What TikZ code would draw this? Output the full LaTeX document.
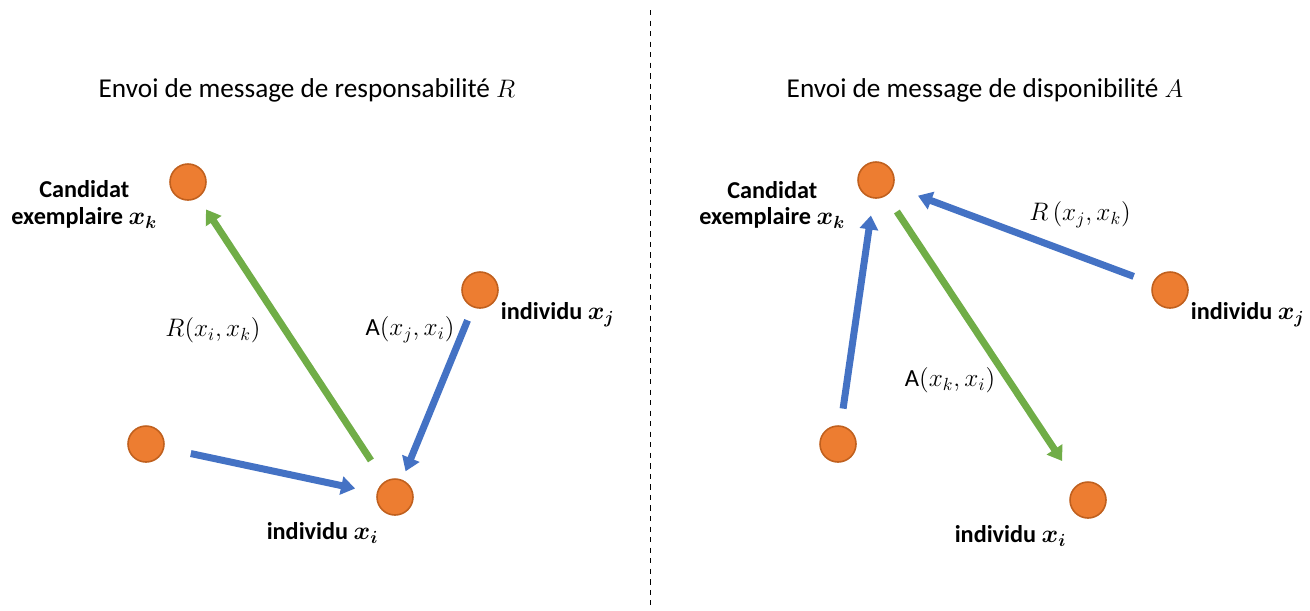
\documentclass[tikz,border=0pt]{standalone}
\usepackage{fontspec}
\setmainfont{Carlito}
\usetikzlibrary{arrows.meta, positioning}
\definecolor{dotorange}{HTML}{ED7D31}
\definecolor{dotedge}{HTML}{C0601E}
\definecolor{msgblue}{HTML}{4472C4}
\definecolor{msggreen}{HTML}{70AD47}

\begin{document}
\begin{tikzpicture}[x=0.02cm, y=-0.02cm,
    point/.style={circle, fill=dotorange, draw=dotedge, line width=0.9pt,
                  minimum size=0.72cm, inner sep=0pt},
    who/.style={font=\fontsize{13.8}{15}\selectfont\bfseries\boldmath,
                align=center, inner sep=1pt},
    msg/.style={font=\fontsize{14}{16}\selectfont, inner sep=1pt},
    heading/.style={font=\fontsize{15.5}{18}\selectfont, inner sep=0pt},
    bluelink/.style={-{Triangle[length=0.28cm, width=0.36cm]},
                     line width=0.14cm, msgblue},
    greenlink/.style={-{Triangle[length=0.28cm, width=0.36cm]},
                      line width=0.14cm, msggreen}
]
    \useasboundingbox (0,0) rectangle (1310,610);

    % separator
    \coordinate (sepTop) at (650,10);
    \coordinate (sepBot) at (650,605);
    \draw[dashed, thin] (sepTop) -- (sepBot);

    % left: responsabilite
    \node[heading] (titleR) at (307,90) {Envoi de message de responsabilité $R$};

    \node[point] (kL) at (188,182) {};
    \node[point] (jL) at (480,290) {};
    \node[point] (oL) at (146,444) {};
    \node[point] (iL) at (395,497) {};

    \node[who, left=0.2cm of kL, yshift=-0.45cm] (kLtxt) {Candidat\\exemplaire $x_k$};
    \node[who, right=0cm of jL, yshift=-0.5cm] (jLtxt) {individu $x_j$};
    \node[who, below=0.1cm of iL, xshift=-1.45cm] (iLtxt) {individu $x_i$};

    \draw[greenlink, shorten <=0.5cm, shorten >=0.28cm] (iL) -- (kL);
    \draw[bluelink, shorten <=0.54cm, shorten >=0.44cm] (oL) -- (iL);
    \draw[bluelink, shorten <=0.28cm, shorten >=0.18cm] (jL) -- (iL);

    \node[msg] (rik) at (213,330) {$R(x_i,x_k)$};
    \node[msg] (aji) at (410,330) {A$\left(x_j,x_i\right)$};

    % right: disponibilite
    \node[heading] (titleA) at (985,90) {Envoi de message de disponibilité $A$};

    \node[point] (kR) at (876,180) {};
    \node[point] (jR) at (1170,290) {};
    \node[point] (oR) at (838,444) {};
    \node[point] (iR) at (1088,500) {};

    \node[who, left=0.2cm of kR, yshift=-0.5cm] (kRtxt) {Candidat\\exemplaire $x_k$};
    \node[who, right=0cm of jR, yshift=-0.5cm] (jRtxt) {individu $x_j$};
    \node[who, below=0.1cm of iR, xshift=-1.55cm] (iRtxt) {individu $x_i$};

    \draw[bluelink, shorten <=0.34cm, shorten >=0.34cm] (oR) -- (kR);
    \draw[bluelink, shorten <=0.4cm, shorten >=0.52cm] (jR) -- (kR);
    \draw[greenlink, shorten <=0.38cm, shorten >=0.56cm] (kR) -- (iR);

    \node[msg] (rjk) at (1080,215) {$R\left(x_j,x_k\right)$};
    \node[msg] (aki) at (950,380) {A$(x_k,x_i)$};
\end{tikzpicture}
\end{document}
